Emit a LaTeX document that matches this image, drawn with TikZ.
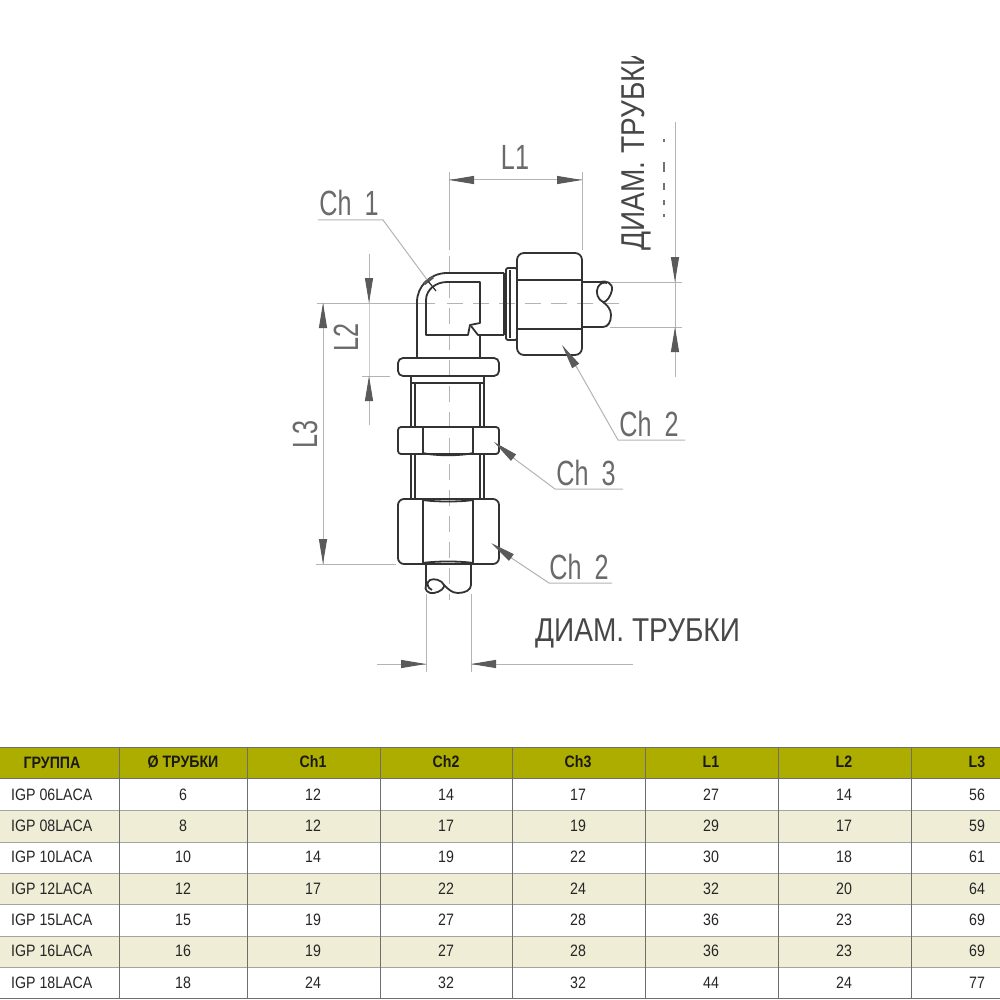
\documentclass[tikz,border=0pt]{standalone}
\usepackage{fontspec}
\usetikzlibrary{arrows.meta}
\setmainfont{Liberation Sans}
\newfontfamily\labf[FakeStretch=0.72]{Liberation Sans}
\newfontfamily\tabf[FakeStretch=0.86]{Liberation Sans}
\newfontfamily\diaf[FakeStretch=0.85]{Liberation Sans}
\definecolor{body}{HTML}{333333}
\definecolor{dimgray}{HTML}{B4B4B4}
\definecolor{tipgray}{HTML}{5A5A5A}
\definecolor{labgray}{HTML}{6A6A6A}
\definecolor{head}{HTML}{ADAD00}
\definecolor{alt}{HTML}{EFEDD6}
\definecolor{gridd}{HTML}{6E6E6E}
\definecolor{gridl}{HTML}{A4A4A4}
\tikzset{
  part/.style={draw=body,line width=1.8pt,line join=round},
  thin part/.style={draw=body,line width=1.2pt},
  dimln/.style={draw=dimgray,line width=1pt},
  center dash/.style={draw=dimgray,line width=1pt,dash pattern=on 16pt off 10pt},
  dimtip/.style={-{Triangle[length=25pt,width=8pt,color=tipgray]}},
  dimlab/.style={text=labgray,inner sep=0pt,font=\labf\fontsize{35}{38}\selectfont},
  diam/.style={text=black!72,inner sep=0pt,font=\diaf\fontsize{33}{35}\selectfont},
  tabtxt/.style={text=black!85,inner sep=0pt,font=\tabf\fontsize{16.5}{18}\selectfont},
  tabhead/.style={text=black!90,inner sep=0pt,font=\tabf\bfseries\fontsize{16.5}{18}\selectfont},
}
\begin{document}
\begin{tikzpicture}[x=1pt,y=-1pt]
\useasboundingbox[fill=white] (0,0) rectangle (1000,1000);

% ---- centre and extension lines
\draw[dimln] (449,172) -- (449,250);
\draw[center dash] (449,256) -- (449,600);
\draw[dimln] (317,303) -- (435,303);
\draw[center dash] (447,303) -- (622,303);
\draw[dimln] (582,172) -- (582,250);
\draw[dimln] (610,282) -- (682,282);
\draw[dimln] (610,327) -- (682,327);
\draw[dimln] (362,376) -- (390,376);
\draw[dimln] (316,564) -- (396,564);
\draw[dimln] (426,594) -- (426,672);
\draw[dimln] (471,594) -- (471,672);

% ---- dimension ends
\coordinate (L1a) at (449,180); \coordinate (L1b) at (582,180);
\coordinate (L2a) at (369,303); \coordinate (L2b) at (369,376);
\coordinate (L3a) at (323,303); \coordinate (L3b) at (323,564);
\coordinate (DRa) at (675,282); \coordinate (DRb) at (675,327);
\coordinate (DBa) at (426,664); \coordinate (DBb) at (471,664);

\draw[dimln] (L1a) -- (L1b);
\draw[dimln,dimtip] (473,180) -- (L1a);
\draw[dimln,dimtip] (557,180) -- (L1b);
\draw[dimln] (369,254) -- (L2a) -- (L2b) -- (369,425);
\draw[dimln,dimtip] (369,278) -- (L2a);
\draw[dimln,dimtip] (369,401) -- (L2b);
\draw[dimln] (L3a) -- (L3b);
\draw[dimln,dimtip] (323,328) -- (L3a);
\draw[dimln,dimtip] (323,539) -- (L3b);
\draw[dimln] (675,122) -- (DRa) -- (DRb) -- (675,377);
\draw[dimln,dimtip] (675,257) -- (DRa);
\draw[dimln,dimtip] (675,352) -- (DRb);
\draw[dimln] (377,664) -- (DBa);
\draw[dimln] (DBb) -- (633,664);
\draw[dimln,dimtip] (400,664) -- (DBa);
\draw[dimln,dimtip] (496,664) -- (DBb);

% ---- elbow
\draw[part] (417,357) -- (417,302) arc[start angle=180,end angle=90,x radius=30,y radius=-29] -- (504,273);
\draw[part] (426,335) -- (426,300) arc[start angle=180,end angle=90,x radius=21,y radius=-18] -- (480,282) -- (480,323) -- (470,325) -- (468,335) -- cycle;
\draw[part] (471,326) -- (478,335) -- (504,335);
\draw[part] (480,335) -- (480,357);
% collar
\draw[part] (504,335) -- (504,273);
\draw[part,rounded corners=2pt] (506,268) rectangle (517,340);
\draw[thin part] (510,270) -- (510,338);
% right nut
\draw[part,rounded corners=7pt] (517,253) rectangle (582,355);
\draw[part] (517,280) -- (582,280);
\draw[part] (517,329) -- (582,329);
% right tube
\draw[part] (582,282) -- (600,282) .. controls (606,280) and (613,283) .. (612,290)
  .. controls (611,296) and (606,303) .. (603,302) .. controls (598,300) and (595,292) .. (598,287)
  .. controls (600,283) and (604,282) .. (607,283);
\draw[part] (603,302) .. controls (607,305) and (611,309) .. (611,315)
  .. controls (611,322) and (608,327) .. (603,327) -- (582,327);
% flange
\draw[part,rounded corners=5pt] (398,358) rectangle (499,376);
% lower body
\draw[part] (411,376) -- (411,427);
\draw[thin part] (415,383) -- (415,427);
\draw[part] (484,376) -- (484,427);
\draw[thin part] (480,383) -- (480,427);
\draw[part] (411,383) -- (484,383);
\draw[part] (411,455) -- (411,499);
\draw[thin part] (415,455) -- (415,499);
\draw[part] (484,455) -- (484,499);
\draw[thin part] (480,455) -- (480,499);
% Ch3 nut
\draw[part,rounded corners=3pt] (398,427) -- (499,427) -- (499,454) -- (398,454) -- cycle;
\draw[part] (423,427) -- (423,454);
\draw[part] (473,427) -- (473,454);
\draw[part] (423,453) .. controls (435,456) and (461,456) .. (473,453);
% lower nut
\draw[part,rounded corners=6pt] (398,499) rectangle (499,564);
\draw[part] (423,500) -- (423,563);
\draw[part] (473,500) -- (473,563);
\draw[part] (423,563) .. controls (435,561) and (461,561) .. (473,563);
\draw[part] (423,500) .. controls (435,502) and (461,502) .. (473,500);
% lower tube
\draw[part] (426,564) -- (426,585) .. controls (424,590) and (428,594) .. (434,593)
  .. controls (440,592) and (445,588) .. (444,585) .. controls (442,580) and (434,578) .. (430,580)
  .. controls (426,582) and (427,588) .. (432,590);
\draw[part] (444,585) .. controls (448,589) and (452,593) .. (458,593)
  .. controls (465,593) and (471,590) .. (471,585) -- (471,564);

% ---- leaders
\coordinate (T1) at (428,281); \coordinate (E1) at (383,220); \coordinate (F1) at (318,220);
\draw[dimln] (F1) -- (E1) -- (T1);
\draw[draw=tipgray,line width=3pt] (424,284) -- (433,277);
\draw[thin part] (428,281) -- (436,291);
\coordinate (T2) at (562,345); \coordinate (E2) at (618,440); \coordinate (F2) at (685,440);
\draw[dimln] (F2) -- (E2) -- (576,366);
\draw[dimln,dimtip] (577,368) -- (T2);
\coordinate (T3) at (494,442); \coordinate (E3) at (555,489); \coordinate (F3) at (623,489);
\draw[dimln] (F3) -- (E3) -- (512,457);
\draw[dimln,dimtip] (514,458) -- (T3);
\coordinate (T4) at (491,543); \coordinate (E4) at (549,583); \coordinate (F4) at (612,583);
\draw[dimln] (F4) -- (E4) -- (510,557);
\draw[dimln,dimtip] (512,558) -- (T4);

% ---- labels
\node[dimlab] (lab1) at (349,203) {Ch\hspace{6pt} 1};
\node[dimlab] (lab2) at (649,424) {Ch\hspace{6pt} 2};
\node[dimlab] (lab3) at (586,473) {Ch\hspace{6pt} 3};
\node[dimlab] (lab4) at (579,567) {Ch\hspace{6pt} 2};
\node[dimlab] (labL1) at (515,157) {L1};
\node[dimlab,rotate=90] (labL2) at (346,337) {L2};
\node[dimlab,rotate=90] (labL3) at (305,434) {L3};
\node[diam,anchor=west] (diamb) at (535,633) {ДИАМ. ТРУБКИ};
\begin{scope}
  \clip (600,57) rectangle (668,262);
  \node[diam,rotate=90,anchor=west] (diamr) at (636,251) {ДИАМ. ТРУБКИ};
\end{scope}
\foreach \ya/\yb in {139/142,162/172,183/190,200/205,214/217} \fill[black!55] (663,\ya) rectangle (665,\yb);

% ---- table
\fill[head] (0,747) rectangle (1000,778);
\foreach \ya/\yb in {810/842,873/904,936/967} \fill[alt] (0,\ya) rectangle (1000,\yb);
\foreach \yy in {810,842,873,904,936,967} \draw[draw=gridl,line width=1pt] (0,\yy) -- (1000,\yy);
\foreach \yy in {747,778,998} \draw[draw=gridd,line width=1pt] (0,\yy) -- (1000,\yy);
\foreach \xx in {119,247,380,512,645,778,911} \draw[draw=gridd,line width=1pt] (\xx,747) -- (\xx,998);
\node[tabhead] (h0) at (52,763) {ГРУППА};
\foreach \n/\xx/\t in {1/183/Ø ТРУБКИ,2/313/Ch1,3/446/Ch2,4/578/Ch3,5/711/L1,6/844/L2,7/977/L3}
  \node[tabhead] (h\n) at (\xx,762) {\t};
\foreach \r/\yy/\nm/\a/\b/\c/\d/\e/\f/\g in {
  1/795/06/6/12/14/17/27/14/56,
  2/826/08/8/12/17/19/29/17/59,
  3/857/10/10/14/19/22/30/18/61,
  4/889/12/12/17/22/24/32/20/64,
  5/920/15/15/19/27/28/36/23/69,
  6/951/16/16/19/27/28/36/23/69,
  7/983/18/18/24/32/32/44/24/77}{
  \node[tabtxt,anchor=west] (r\r c0) at (11,\yy) {IGP \nm LACA};
  \node[tabtxt] (r\r c1) at (183,\yy) {\a};
  \node[tabtxt] (r\r c2) at (313,\yy) {\b};
  \node[tabtxt] (r\r c3) at (446,\yy) {\c};
  \node[tabtxt] (r\r c4) at (578,\yy) {\d};
  \node[tabtxt] (r\r c5) at (711,\yy) {\e};
  \node[tabtxt] (r\r c6) at (844,\yy) {\f};
  \node[tabtxt] (r\r c7) at (977,\yy) {\g};
}
\end{tikzpicture}
\end{document}
